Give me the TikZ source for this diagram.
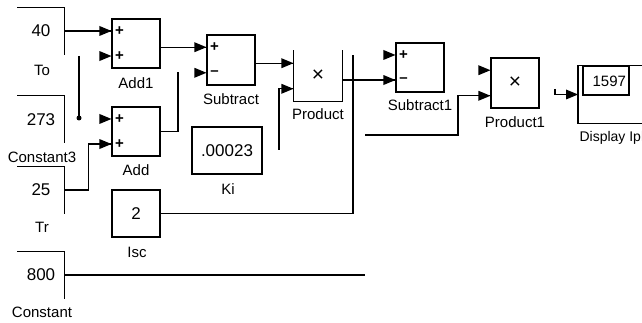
\documentclass[tikz,border=0pt]{standalone}
\usepackage{fontspec}
\setmainfont{Liberation Sans}
\usetikzlibrary{
    calc,
    positioning
}
\tikzset{
  every path/.style={
    line width=1.1pt
  },
  blk/.style={draw, minimum width=48pt, minimum height=49pt, inner sep=0pt},
  cst/.style={minimum width=46pt, minimum height=46pt, inner sep=0pt},
  val/.style={font=\fontsize{17}{17}\selectfont},
  lbl/.style={font=\fontsize{15}{15}\selectfont, inner sep=0pt},
  sgn/.style={font=\fontsize{15}{15}\selectfont\bfseries, inner sep=0pt},
  mul/.style={font=\fontsize{21}{21}\selectfont},
  inport/.pic={\fill (-12,5) -- (0,0) -- (-12,-5) -- cycle;}
}

\begin{document}
\begin{tikzpicture}[x=1pt,y=-1pt]

    \useasboundingbox (0,0) rectangle (642,323);

    % 定数ブロック
    \node[cst,val] (c40)  at (41,31)    {40};
    \node[cst,val] (c273) at (41,119.5) {273};
    \node[cst,val] (c25)  at (41,190)   {25};
    \node[cst,val] (c800) at (41,275)   {800};
    \foreach \c in {c40,c273,c25,c800}
        \draw (\c.north west) -- (\c.north east) -- (\c.south east);

    \node[lbl] (lto)   at (42,70)  {To};
    \node[lbl] (lc3)   at (42,157) {Constant3};
    \node[lbl] (ltr)   at (42,227) {Tr};
    \node[lbl] (lcst)  at (42,312) {Constant};

    % 演算ブロック
    \node[blk] (add1) at (136,43.5)  {};
    \node[blk] (add)  at (136,131.5) {};
    \node[blk, minimum height=50pt] (sub)  at (231,60) {};
    \node[mul, minimum width=48pt, minimum height=50pt, inner sep=0pt] (prod) at (318,76) {×};
    \draw (prod.north west) -- (prod.south west) -- (prod.south east) -- (prod.north east);
    \node[blk] (sub1) at (420,67.5) {};
    \node[blk, mul, minimum height=50pt] (prod1) at (515,83) {×};

    \node[blk,val, minimum width=70pt, minimum height=47pt] (ki)  at (227,150.5) {.00023};
    \node[blk,val, minimum height=47pt] (isc) at (136,213.5) {2};

    \node[lbl] (ladd1)  at (136,83)  {Add1};
    \node[lbl] (ladd)   at (136,170) {Add};
    \node[lbl] (lsub)   at (231,99)  {Subtract};
    \node[lbl] (lprod)  at (318,114) {Product};
    \node[lbl] (lki)    at (228,189) {Ki};
    \node[lbl] (lisc)   at (137,252) {Isc};
    \node[lbl] (lsub1)  at (420,105) {Subtract1};
    \node[lbl] (lprod1) at (515,122) {Product1};

    % 入力ポート
    \foreach \b in {add1,add,sub,prod,sub1,prod1}{
        \coordinate (\b-in1) at ($(\b.north west)!.25!(\b.south west)$);
        \coordinate (\b-in2) at ($(\b.north west)!.75!(\b.south west)$);
        \pic at (\b-in1) {inport};
        \pic at (\b-in2) {inport};
    }
    \foreach \b/\s in {add1/+,add/+,sub/--,sub1/--}{
        \node[sgn] at ($(\b-in1)+(8,0)$) {+};
        \node[sgn] at ($(\b-in2)+(8,0)$) {\s};
    }

    % 表示ブロック
    \node[minimum width=64pt, minimum height=57pt, inner sep=0pt, anchor=west] (disp) at (578,94.5) {};
    \draw (disp.north east) -- (disp.north west) -- (disp.south west) -- (disp.south east);
    \node[draw, minimum width=46pt, minimum height=29pt, inner sep=0pt] (dbox) at (606,80.5) {};
    \node[lbl, anchor=east] (dval) at ($(dbox.east)+(-3,1)$) {1597};
    \coordinate (disp-in) at (disp.west);
    \pic at (disp-in) {inport};
    \node[lbl, font=\fontsize{14}{14}\selectfont, anchor=west] (ldisp) at (579,138) {Display Iph};

    % 結線
    \coordinate (br1)     at (79,56);
    \coordinate (br2)     at (79,118);
    \coordinate (addend)  at (178,72);
    \coordinate (kiend)   at (279,150);
    \coordinate (iscend)  at (353,55);
    \coordinate (p1start) at (365,135);
    \coordinate (dstart)  at (555,89);
    \coordinate (c8end)   at (365,275);

    \draw (c40.east |- add1-in1) -- (add1-in1);
    \draw (br1) -- (br2);
    \fill (br2) circle (2.5);
    \draw (c25.east) -- ++(24,0) |- (add-in2);
    \draw (add.east) -| (addend);
    \draw (add1.east |- sub-in1) -- (sub-in1);
    \draw (sub.east |- prod-in1) -- (prod-in1);
    \draw (kiend) |- (prod-in2);
    \draw (prod.east |- sub1-in2) -- (sub1-in2);
    \draw (isc.east) -| (iscend);
    \draw (p1start) -- ++(93,0) |- (prod1-in2);
    \draw (dstart) |- (disp-in);
    \draw (c800.east) -- (c8end);

\end{tikzpicture}
\end{document}
